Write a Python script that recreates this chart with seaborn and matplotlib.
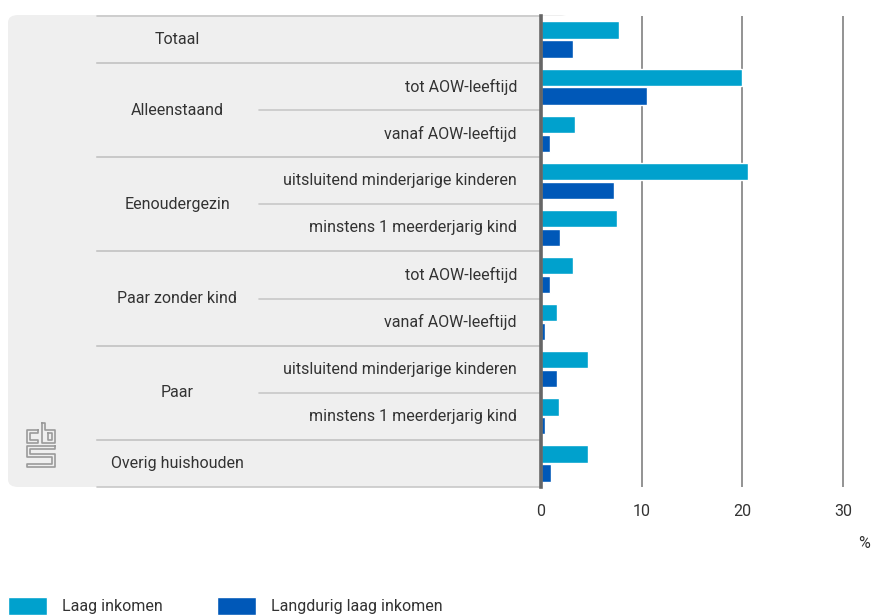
import numpy as np
import pandas as pd
import matplotlib
matplotlib.use("Agg")
import matplotlib.pyplot as plt
import seaborn as sns
from matplotlib.patches import FancyBboxPatch
from matplotlib.lines import Line2D
from matplotlib.transforms import blended_transform_factory

# ================= DATA =================
groups = ["Totaal", "Alleenstaand", "Alleenstaand", "Eenoudergezin", "Eenoudergezin",
          "Paar zonder kind", "Paar zonder kind", "Paar", "Paar", "Overig huishouden"]
subs = ["", "tot AOW-leeftijd", "vanaf AOW-leeftijd",
        "uitsluitend minderjarige kinderen", "minstens 1 meerderjarig kind",
        "tot AOW-leeftijd", "vanaf AOW-leeftijd",
        "uitsluitend minderjarige kinderen", "minstens 1 meerderjarig kind", ""]
laag_inkomen = [7.8, 20.0, 3.4, 20.6, 7.6, 3.2, 1.6, 4.7, 1.8, 4.7]
langdurig_laag = [3.2, 10.5, 0.9, 7.3, 1.9, 0.9, 0.4, 1.6, 0.4, 1.0]
series = ["Laag inkomen", "Langdurig laag inkomen"]
colors = ["#00a1cd", "#0058b8"]
xticks = [0, 10, 20, 30]

rows = [f"{g}|{s}" for g, s in zip(groups, subs)]
df = pd.DataFrame({
    "row": rows * 2,
    "serie": [series[0]] * len(rows) + [series[1]] * len(rows),
    "waarde": laag_inkomen + langdurig_laag,
})

# ================= STYLE =================
sns.set_theme(style="white")
plt.rcParams["font.family"] = ["Roboto", "DejaVu Sans"]
txt = "#333333"
fs = 11.5

W, H = 872, 616
fig = plt.figure(figsize=(W / 100, H / 100), dpi=100)
ax_left, ax_right, ax_top, ax_bottom = 541, 872, 16, 487
ax = fig.add_axes([ax_left / W, 1 - ax_bottom / H, (ax_right - ax_left) / W, (ax_bottom - ax_top) / H])

# grey panel behind the labels
panel = FancyBboxPatch((8 / W, 1 - 487 / H), (570 - 8) / W, (487 - 15) / H,
                       boxstyle="round,pad=0,rounding_size=0.012", transform=fig.transFigure,
                       facecolor="#efefef", edgecolor="none", zorder=-5)
fig.patches.append(panel)

sns.barplot(data=df, x="waarde", y="row", hue="serie", order=rows, hue_order=series,
            palette=colors, width=0.8, gap=0.08, saturation=1, ax=ax, legend=True)

ax.set_xlim(0, 32.9)
ax.set_ylim(len(rows) - 0.5, -0.5)
ax.set_xticks(xticks)
ax.set_xticklabels([str(t) for t in xticks], fontsize=fs, color=txt)
ax.tick_params(axis="x", length=0, pad=12)
ax.set_yticks([])
ax.set_xlabel("")
ax.set_ylabel("")
ax.set_axisbelow(True)
ax.grid(axis="x", color="#808080", linewidth=1.2)
ax.grid(axis="y", visible=False)
for side in ["top", "right", "bottom"]:
    ax.spines[side].set_visible(False)
ax.spines["left"].set_color("#666666")
ax.spines["left"].set_linewidth(2.6)
ax.spines["left"].set_zorder(5)

# ================= ROW LABELS =================
tr = blended_transform_factory(fig.transFigure, ax.transData)
line_kw = dict(color="#c8c8c8", linewidth=1.2, transform=tr, clip_on=False)

unique_groups = list(dict.fromkeys(groups))
for g in unique_groups:
    idx = [i for i, gg in enumerate(groups) if gg == g]
    yc = np.mean(idx)
    ax.text(177 / W, yc, g, transform=tr, ha="center", va="center", fontsize=fs, color=txt)
    ax.add_line(Line2D([97 / W, ax_left / W], [idx[0] - 0.5] * 2, **line_kw))
    ax.add_line(Line2D([97 / W, ax_left / W], [idx[-1] + 0.5] * 2, **line_kw))
    for k, i in enumerate(idx):
        if subs[i]:
            ax.text(517 / W, i, subs[i], transform=tr, ha="right", va="center", fontsize=fs, color=txt)
        if k > 0:
            ax.add_line(Line2D([259 / W, ax_left / W], [i - 0.5] * 2, **line_kw))

fig.text(870 / W, 1 - 543 / H, "%", ha="right", va="center", fontsize=fs, color=txt)

# ================= LOGO (outline) =================
def px(x, y):
    return x / W, 1 - y / H

logo_kw = dict(color="#9a9a9a", linewidth=1.2)
logo_paths = [
    # c
    [(38, 430), (27, 430), (27, 443), (38, 443), (38, 440), (30, 440), (30, 433), (38, 433), (38, 430)],
    # b
    [(42, 423), (42, 443), (55, 443), (55, 430), (45, 430), (45, 423), (42, 423)],
    [(48, 433), (52, 433), (52, 440), (48, 440), (48, 433)],
    # s
    [(55, 446), (27, 446), (27, 457), (52, 457), (52, 464), (27, 464), (27, 467), (55, 467),
     (55, 454), (30, 454), (30, 449), (55, 449), (55, 446)],
]
for path in logo_paths:
    xs, ys = zip(*[px(x, y) for x, y in path])
    fig.add_artist(Line2D(xs, ys, transform=fig.transFigure, **logo_kw))

# ================= LEGEND =================
handles, labels = ax.get_legend_handles_labels()
ax.legend_.remove()
fig.legend(handles, labels, loc="lower left", bbox_to_anchor=(8 / W, 0.002), ncol=2,
           frameon=False, fontsize=fs, labelcolor=txt, borderpad=0, borderaxespad=0,
           handlelength=2.45, handleheight=1.3, handletextpad=0.95, columnspacing=3.35)

fig.savefig("out.png", dpi=100)
